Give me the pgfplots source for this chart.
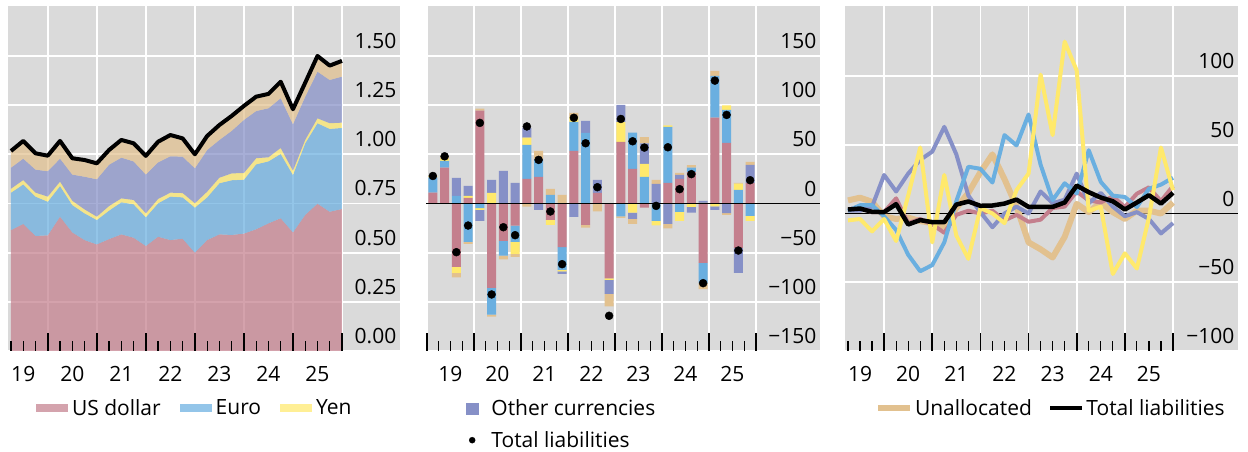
\documentclass[border=0pt]{standalone}
\usepackage{fontspec}
\setmainfont{Open Sans}
\usepackage{pgfplots}
\usepackage{pgfplotstable}
\pgfplotsset{compat=1.18}

\definecolor{panelbg}{RGB}{218,218,218}
\definecolor{cusd}{RGB}{196,127,141}
\definecolor{ceur}{RGB}{106,175,224}
\definecolor{cjpy}{RGB}{255,233,108}
\definecolor{coth}{RGB}{134,144,199}
\definecolor{cuna}{RGB}{226,193,143}

\newcommand{\lbl}{\fontsize{21}{25}\selectfont}

% Outstanding liabilities by currency (trillions)
\pgfplotstableread{
t       usd   eur   jpy   oth   una   tot
2019.25 0.615 0.190 0.020 0.107 0.085 1.017
2019.50 0.646 0.201 0.022 0.109 0.090 1.068
2019.75 0.585 0.200 0.020 0.117 0.083 1.005
2020.00 0.588 0.171 0.026 0.129 0.079 0.993
2020.25 0.683 0.156 0.022 0.117 0.090 1.068
2020.50 0.603 0.139 0.022 0.133 0.083 0.980
2020.75 0.564 0.136 0.020 0.166 0.085 0.971
2021.00 0.542 0.124 0.017 0.190 0.081 0.954
2021.25 0.569 0.145 0.023 0.210 0.075 1.022
2021.50 0.593 0.163 0.020 0.207 0.090 1.073
2021.75 0.576 0.170 0.022 0.196 0.092 1.056
2022.00 0.534 0.146 0.020 0.197 0.095 0.992
2022.25 0.581 0.170 0.022 0.186 0.105 1.064
2022.50 0.564 0.221 0.020 0.185 0.108 1.098
2022.75 0.571 0.210 0.022 0.185 0.093 1.081
2023.00 0.500 0.229 0.022 0.178 0.071 1.000
2023.25 0.564 0.217 0.029 0.212 0.071 1.093
2023.50 0.593 0.260 0.028 0.192 0.076 1.149
2023.75 0.590 0.278 0.035 0.216 0.076 1.195
2024.00 0.597 0.274 0.034 0.270 0.071 1.246
2024.25 0.619 0.330 0.031 0.240 0.073 1.293
2024.50 0.649 0.315 0.021 0.249 0.073 1.307
2024.75 0.675 0.327 0.030 0.253 0.084 1.369
2025.00 0.603 0.292 0.022 0.236 0.076 1.229
2025.25 0.692 0.364 0.017 0.220 0.071 1.364
2025.50 0.749 0.409 0.025 0.237 0.080 1.500
2025.75 0.708 0.421 0.029 0.220 0.073 1.451
2026.00 0.722 0.412 0.027 0.234 0.080 1.475
}\stocks

% Quarterly flows by currency (billions)
\pgfplotstableread{
t        usd   eur   jpy   oth   una   tot
2019.125 11.0  15.5  1.5   0.0   0.0   28.0
2019.375 36.6  6.8   2.0   0.0   2.0   48.0
2019.625 -64.4 7.8   -6.1  18.3  -4.7  -49.5
2019.875 5.8   -39.0 2.0   10.2  -2.0  -22.4
2020.125 94.5  -4.7  -1.7  -11.2 2.0   82.0
2020.375 -85.7 -27.4 10.8  13.2  -2.0  -92.5
2020.625 -37.9 -15.2 0.0   33.2  -3.7  -24.1
2020.875 -22.4 -16.6 -12.2 21.0  -3.0  -32.2
2021.125 25.0  34.6  7.3   10.0  -3.2  78.4
2021.375 27.1  17.9  0.0   -6.4  8.5   44.4
2021.625 -16.6 8.8   -5.1  0.0   6.1   -8.1
2021.875 -44.4 -23.0 -1.7  -2.4  8.8   -61.7
2022.125 53.6  29.5  5.0   -13.6 4.0   87.2
2022.375 -21.7 71.8  0.0   12.2  -2.7  61.3
2022.625 10.8  0.0   0.0   13.2  -8.1  16.6
2022.875 -76.2 0.0   -1.4  -14.2 -12.9 -114.2
2023.125 62.7  -13.2 20.0  17.6  -1.4  86.0
2023.375 35.2  36.8  -9.3  -6.3  -5.1  63.3
2023.625 -4.2  27.0  13.2  21.0  6.3   56.9
2023.875 0.0   -17.6 -4.7  20.0  4.1   -2.4
2024.125 21.0  56.9  1.7   -20.7 -4.7  57.2
2024.375 25.1  -8.5  -9.1  4.1   2.0   14.6
2024.625 32.0  4.4   -3.4  -5.8  2.7   29.9
2024.875 -60.3 -20.7 0.7   2.0   -6.1  -81.0
2025.125 87.4  42.3  -3.0  -3.4  5.1   125.0
2025.375 61.7  33.5  4.7   -9.8  -1.7  90.1
2025.625 -45.1 13.9  6.4   -25.4 0.7   -47.8
2025.875 20.7  -12.5 -5.1  18.6  3.0   23.7
}\flows

% Year-on-year growth by currency (per cent)
\pgfplotstableread{
t       usd   eur   jpy  oth   una   tot
2019.25 3     2     -5   2     9.5   2.9
2019.50 4     6     -4   2     11.5  3.6
2019.75 1     6     -13  5     8.5   1.2
2020.00 1     -2    -4   28    -2    1.0
2020.25 11    -12   -20  16    -4    6.8
2020.50 -7    -30   13   29    -3    -8.0
2020.75 -4    -42   48   39    -5.5  -4.8
2021.00 -8    -37.5 -21  45    -7    -6.3
2021.25 -14   -21   28   63    -9.5  -6.3
2021.50 -1    9     -16  43    4     6.5
2021.75 2     34    -33  13    15    8.7
2022.00 0     32.5  4    1     30    5.6
2022.25 2     22.5  0    -10   43    5.8
2022.50 -5    57    -7   0     25    7.2
2022.75 -1    49.5  17   5     5     10.1
2023.00 -6    72    29   0     -21   4.8
2023.25 -4.5  35.5  101  16    -26   4.8
2023.50 4     9.7   57   7.5   -32   4.8
2023.75 5     22    125  10    -17   8.0
2024.00 16    14.5  104  29    7     20.3
2024.25 9.5   46    2    7.5   1     15.5
2024.50 8     23    5    15    8     11.6
2024.75 12.5  13    -44  5     1     8.9
2025.00 4.7   12    -29  -2    -4    2.9
2025.25 14.4  4.7   -40  1     2     8.0
2025.50 19    18    -3   -4    2     13.3
2025.75 9     21    48   -14.5 0     7.2
2026.00 20    26    17   -7    8     15.0
}\changes

\pgfplotsset{
  quarterticks/.style={
    tick align=inside,
    xtick pos=bottom,
    major tick length=18pt,
    minor tick length=10pt,
    major tick style={black, line width=1.8pt},
    minor tick style={black, line width=1.2pt},
    minor xtick={2019.25,2019.5,...,2026},
  },
  panel/.style={
    quarterticks,
    scale only axis,
    height=345pt,
    axis background/.style={fill=panelbg},
    axis line style={draw=none},
    ytick pos=right,
    ytick style={draw=none},
    xmajorgrids, ymajorgrids,
    major grid style={white, line width=1.8pt},
    xticklabels={},
    extra x ticks={2019.5,2020.5,2021.5,2022.5,2023.5,2024.5,2025.5},
    extra x tick labels={19,20,21,22,23,24,25},
    extra x tick style={grid=none, major tick length=0pt},
    tick label style={font=\lbl},
    xticklabel style={anchor=north, inner sep=0pt, yshift=-15pt},
    yticklabel style={anchor=south east, inner sep=0pt, xshift=-3.5pt, yshift=7pt},
    legend cell align=left,
    legend style={draw=none, fill=none, font=\lbl, inner sep=0pt, outer sep=0pt,
      nodes={inner sep=0pt}},
  },
  % tick marks only, laid over the filled areas
  tickoverlay/.style={
    quarterticks,
    scale only axis,
    height=345pt,
    axis line style={draw=none},
    ytick=\empty,
    xticklabels={},
  },
  hidden/.style={scale only axis, height=345pt, hide axis},
}

\begin{document}
\begin{tikzpicture}
\useasboundingbox (0pt,0pt) rectangle (1248pt,452pt);

% ---- Left: stacked outstanding amounts ----
\begin{axis}[panel, at={(8pt,101pt)}, anchor=south west, width=392pt,
  xmin=2019.189, xmax=2027.183, ymin=0, ymax=1.754,
  xtick={2020,2021,...,2026},
  ytick={0,0.25,...,1.5},
  yticklabels={0.00,0.25,0.50,0.75,1.00,1.25,1.50},
  legend columns=3,
  legend image code/.code={\fill[#1] (0pt,-4pt) rectangle (32pt,4pt);},
  legend style={at={(0,0)}, anchor=west, xshift=28pt, yshift=-57pt,
    /tikz/every odd column/.append style={column sep=4pt},
    /tikz/every even column/.append style={column sep=19pt}},
]
\addplot[stack plots=y, draw=none, fill=cusd, fill opacity=0.72] table[x=t, y=usd] {\stocks} \closedcycle;
\addlegendentry{US dollar}
\addplot[stack plots=y, draw=none, fill=ceur, fill opacity=0.72] table[x=t, y=eur] {\stocks} \closedcycle;
\addlegendentry{Euro}
\addplot[stack plots=y, draw=none, fill=cjpy, fill opacity=0.72] table[x=t, y=jpy] {\stocks} \closedcycle;
\addlegendentry{Yen}
\addplot[stack plots=y, draw=none, fill=coth, fill opacity=0.72] table[x=t, y=oth] {\stocks} \closedcycle;
\addplot[stack plots=y, draw=none, fill=cuna, fill opacity=0.72] table[x=t, y=una] {\stocks} \closedcycle;
\addplot[stack plots=false, black, line width=4pt, line join=round] table[x=t, y=tot] {\stocks};
\end{axis}
\begin{axis}[tickoverlay, at={(8pt,101pt)}, anchor=south west, width=392pt,
  xmin=2019.189, xmax=2027.183, ymin=0, ymax=1.754,
  xtick={2020,2021,...,2026}]
\end{axis}

% ---- Middle: flows, positive contributions ----
\begin{axis}[panel, at={(426pt,101pt)}, anchor=south west, width=394pt,
  xmin=2018.979, xmax=2027.362, ymin=-150, ymax=200.9,
  xtick={2019,2020,...,2026},
  ytick={-150,-100,...,150},
  yticklabels={−150,−100,−50,0,50,100,150},
  ybar stacked, bar width=0.19,
]
\addplot[draw=none, fill=cusd] table[x=t, y expr={max(\thisrow{usd},0)}] {\flows};
\addplot[draw=none, fill=ceur] table[x=t, y expr={max(\thisrow{eur},0)}] {\flows};
\addplot[draw=none, fill=cjpy] table[x=t, y expr={max(\thisrow{jpy},0)}] {\flows};
\addplot[draw=none, fill=coth] table[x=t, y expr={max(\thisrow{oth},0)}] {\flows};
\addplot[draw=none, fill=cuna] table[x=t, y expr={max(\thisrow{una},0)}] {\flows};
\end{axis}

% negative contributions
\begin{axis}[hidden, at={(426pt,101pt)}, anchor=south west, width=394pt,
  xmin=2018.979, xmax=2027.362, ymin=-150, ymax=200.9,
  ybar stacked, bar width=0.19,
]
\addplot[draw=none, fill=cusd] table[x=t, y expr={min(\thisrow{usd},0)}] {\flows};
\addplot[draw=none, fill=ceur] table[x=t, y expr={min(\thisrow{eur},0)}] {\flows};
\addplot[draw=none, fill=cjpy] table[x=t, y expr={min(\thisrow{jpy},0)}] {\flows};
\addplot[draw=none, fill=coth] table[x=t, y expr={min(\thisrow{oth},0)}] {\flows};
\addplot[draw=none, fill=cuna] table[x=t, y expr={min(\thisrow{una},0)}] {\flows};
\end{axis}

% zero line, totals and legend
\begin{axis}[hidden, at={(426pt,101pt)}, anchor=south west, width=394pt,
  xmin=2018.979, xmax=2027.362, ymin=-150, ymax=200.9,
  legend cell align=left,
  legend style={draw=none, fill=none, font=\lbl, inner sep=0pt, outer sep=0pt,
    nodes={inner sep=0pt}, at={(0,0)}, anchor=north west, xshift=40pt, yshift=-49pt,
    row sep=14pt,
    /tikz/every odd column/.append style={column sep=13pt}},
]
\addlegendimage{legend image code/.code={\fill[coth] (0pt,-5.5pt) rectangle (12pt,5.5pt);}}
\addlegendentry{Other currencies}
\addlegendimage{legend image code/.code={\fill[black] (6pt,0pt) circle (3pt);}}
\addlegendentry{Total liabilities}
\addplot[black, line width=1.5pt, forget plot] coordinates {(2018.979,0) (2027.362,0)};
\addplot[only marks, mark=*, mark size=4pt, black, forget plot] table[x=t, y=tot] {\flows};
\end{axis}

% ---- Right: growth rates ----
\begin{axis}[panel, at={(845pt,101pt)}, anchor=south west, width=393pt,
  xmin=2019.188, xmax=2027.35, ymin=-100, ymax=150.9,
  xtick={2020,2021,...,2026},
  ytick={-100,-50,...,100},
  yticklabels={−100,−50,0,50,100},
  legend columns=2,
  legend image code/.code={\draw[#1] (0pt,0pt) -- (32pt,0pt);},
  legend style={at={(0,0)}, anchor=west, xshift=30pt, yshift=-57pt,
    /tikz/every odd column/.append style={column sep=2pt},
    /tikz/every even column/.append style={column sep=16pt}},
]
\addplot[black, line width=1.5pt, forget plot] coordinates {(2019.188,0) (2027.35,0)};
\addplot[cuna, line width=6pt, line join=round] table[x=t, y=una] {\changes};
\addlegendentry{Unallocated}
\addplot[cusd, line width=4pt, line join=round, forget plot] table[x=t, y=usd] {\changes};
\addplot[coth, line width=4pt, line join=round, forget plot] table[x=t, y=oth] {\changes};
\addplot[ceur, line width=4pt, line join=round, forget plot] table[x=t, y=eur] {\changes};
\addplot[cjpy, line width=4pt, line join=round, forget plot] table[x=t, y=jpy] {\changes};
\addplot[black, line width=4.5pt, line join=round] table[x=t, y=tot] {\changes};
\addlegendentry{Total liabilities}
\end{axis}
\end{tikzpicture}
\end{document}
